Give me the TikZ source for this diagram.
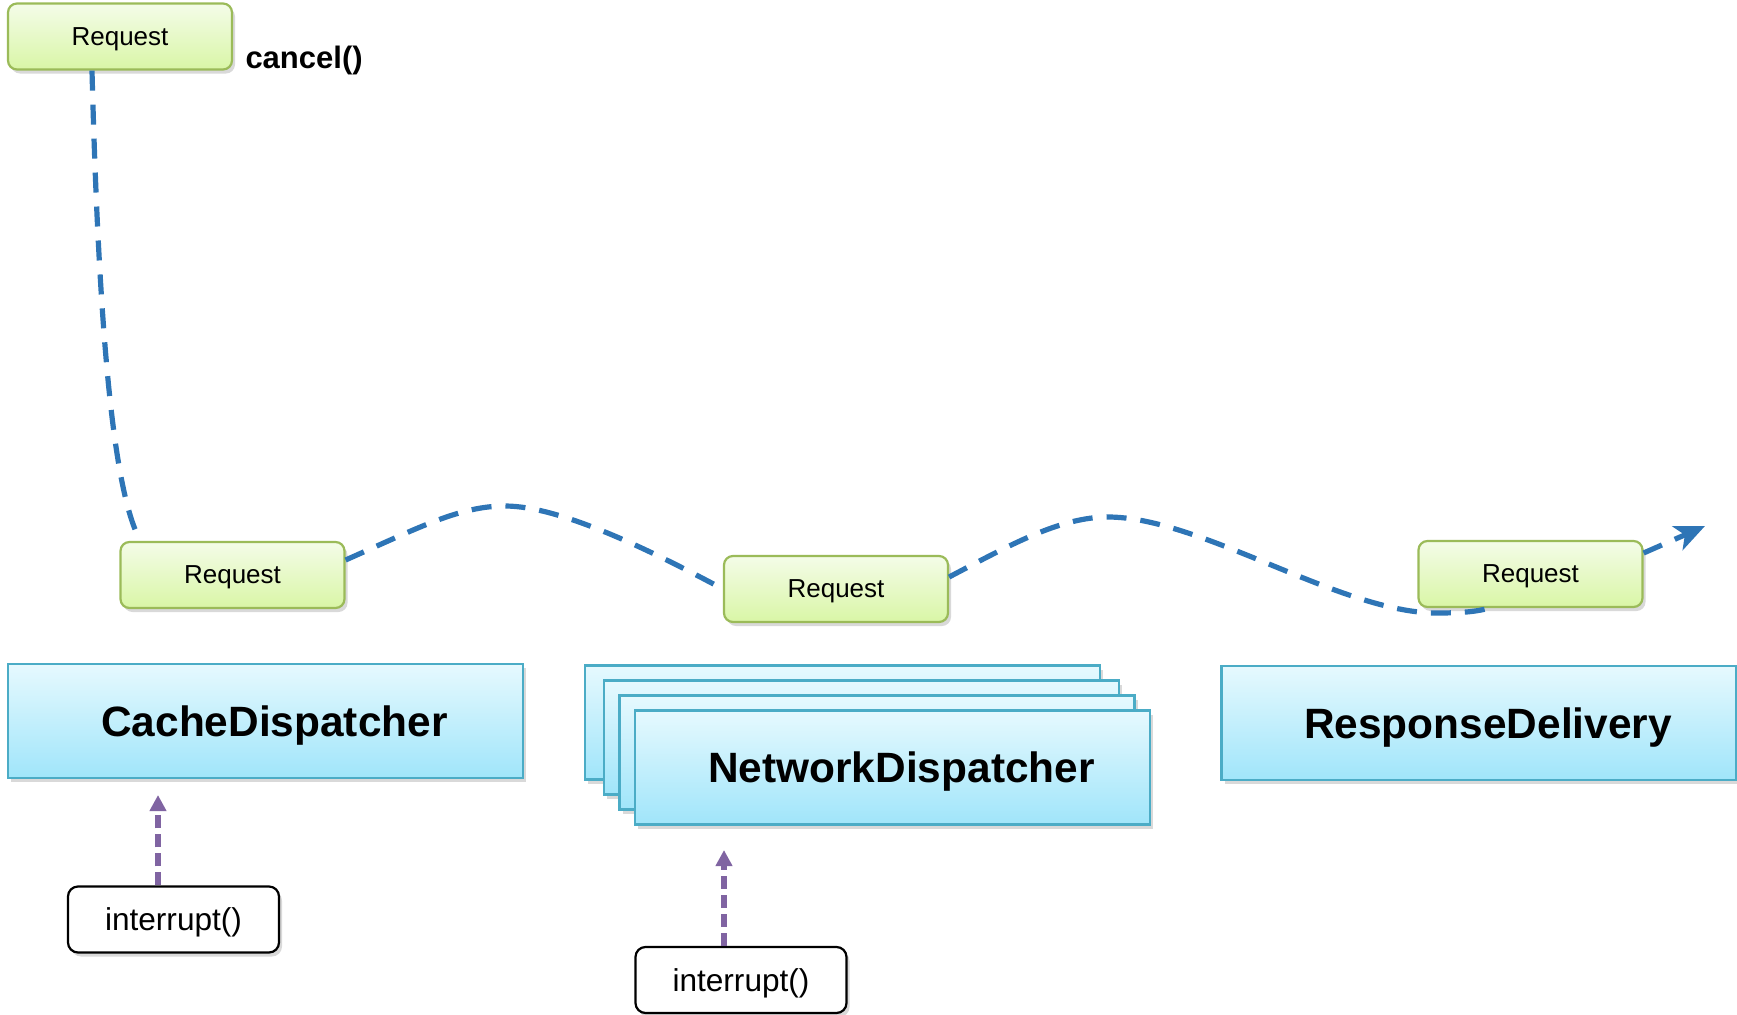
\documentclass[tikz,border=0pt]{standalone}
\usepackage{fontspec}
\setmainfont{Liberation Sans}
\usetikzlibrary{arrows.meta}
\usetikzlibrary{positioning}
\usetikzlibrary{shadows}
\usepackage{xcolor}
\definecolor{flowblue}{RGB}{46,117,182}
\definecolor{kickpurple}{RGB}{128,100,162}
\definecolor{reqtop}{RGB}{244,252,232}
\definecolor{reqbot}{RGB}{217,246,166}
\definecolor{reqline}{RGB}{155,187,89}
\definecolor{disptop}{RGB}{230,249,254}
\definecolor{dispbot}{RGB}{160,229,250}
\definecolor{displine}{RGB}{75,172,198}

\begin{document}
\begin{tikzpicture}[x=0.5pt, y=-0.5pt,
    request/.style={rectangle, rounded corners=4.5pt, draw=reqline, line width=1.1pt,
        top color=reqtop, bottom color=reqbot, minimum width=112pt, minimum height=33pt,
        text depth=0pt, font=\fontsize{13}{15}\selectfont,
        drop shadow={shadow xshift=1.5pt, shadow yshift=-2pt, opacity=0.3}},
    dispatcher/.style={rectangle, draw=displine, line width=1.1pt,
        top color=disptop, bottom color=dispbot, minimum width=257.5pt, minimum height=57pt,
        text depth=0pt, font=\fontsize{21.2}{25}\selectfont\bfseries,
        execute at begin node=\hspace*{9pt},
        drop shadow={shadow xshift=1.5pt, shadow yshift=-2pt, opacity=0.3}},
    call/.style={rectangle, rounded corners=5pt, draw, line width=1.1pt, fill=white,
        minimum width=105.5pt, minimum height=33pt, text depth=0pt,
        font=\fontsize{15.8}{18}\selectfont,
        drop shadow={shadow xshift=1.5pt, shadow yshift=-2pt, opacity=0.3}},
    flow/.style={draw=flowblue, line width=2.6pt, dash pattern=on 10pt off 7pt},
    kick/.style={draw=kickpurple, line width=2.8pt, dash pattern=on 6.5pt off 3pt,
        -{Triangle[length=8pt,width=8pt]}}]
    \useasboundingbox (0,0) rectangle (1737,1014);
    \node[request] (req0) at (120,36.5) {Request};
    \node[right=6pt of req0, yshift=-12pt, inner sep=0pt,
          font=\fontsize{15.5}{18}\selectfont\bfseries] (cancel) {cancel()};
    \node[request] (req1) at (232.5,575) {Request};
    \node[request] (req2) at (836,589) {Request};
    \node[request] (req3) at (1530.5,574) {Request};
    \node[dispatcher] (cache) at (265.5,721) {CacheDispatcher};
    \coordinate (ndc) at (892.5,767.5);
    \node[dispatcher] (nd1) at ([shift={(-50,-45)}]ndc) {};
    \node[dispatcher] (nd2) at ([shift={(-31,-30)}]ndc) {};
    \node[dispatcher] (nd3) at ([shift={(-15.5,-15)}]ndc) {};
    \node[dispatcher] (net) at (ndc) {NetworkDispatcher};
    \node[dispatcher] (resp) at (1479,723) {ResponseDelivery};
    \node[call] (int1) at (173.5,919.5) {interrupt()};
    \node[call] (int2) at (741,980) {interrupt()};
    \coordinate (hit1) at (158,795);
    \coordinate (hit2) at (724,850);
    \coordinate (out) at (1705,526);
    \draw[kick] (int1.north -| hit1) -- (hit1);
    \draw[kick] (int2.north -| hit2) -- (hit2);
    \draw[flow] ([xshift=-14pt]req0.south) .. controls (100,380) and (118,500) .. ([xshift=10.5pt]req1.north west);
    \draw[flow] ([yshift=7.5pt]req1.east) .. controls (420,527) and (460,506) .. (505,506)
        .. controls (560,506) and (650,550) .. (req2.west);
    \draw[flow] ([yshift=6pt]req2.east) .. controls (1010,545) and (1060,517) .. (1108,517)
        .. controls (1200,517) and (1340,612) .. (1435,613)
        .. controls (1460,613) and (1475,612) .. ([xshift=36pt]req3.south west);
    \draw[flow, -{Stealth[length=15pt,width=13pt,inset=4pt]}] ([yshift=10.5pt]req3.east) -- (out);
\end{tikzpicture}
\end{document}
